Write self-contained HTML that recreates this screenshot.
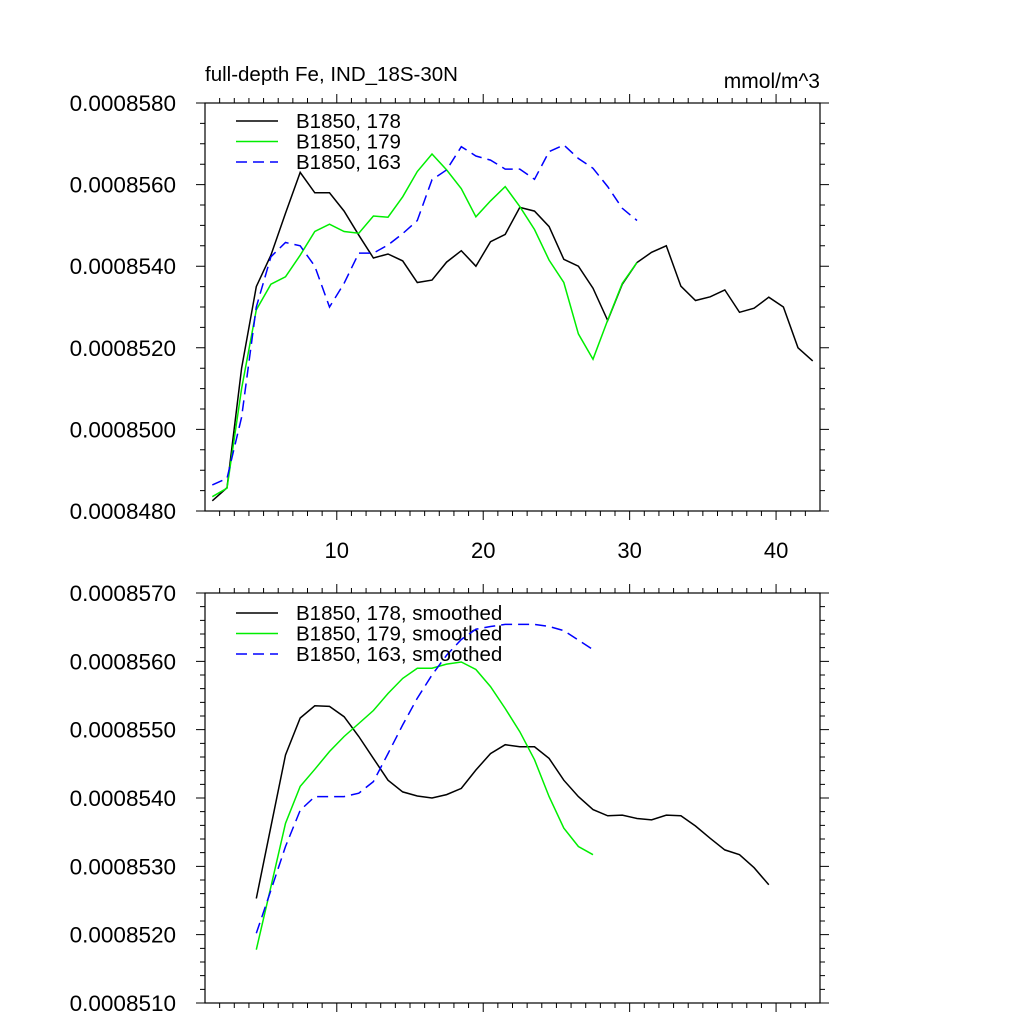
<!DOCTYPE html>
<html><head><meta charset="utf-8"><style>
body{margin:0;background:#fff;}
svg text{font-family:"Liberation Sans",sans-serif;fill:#000;}
</style></head><body>
<svg id="chart" width="1024" height="1024" viewBox="0 0 1024 1024" xmlns="http://www.w3.org/2000/svg">
<rect width="1024" height="1024" fill="#fff"/>
<g id="p1"></g>
<g id="p2"></g>
</svg>
<script>
const p1Black=[8482.5,8485.7,8515,8535,8542.7,8553,8563,8558,8558,8553.5,8547.6,8542,8543,8541.3,8536,8536.6,8541,8543.8,8540,8546,8547.8,8554.4,8553.5,8549.7,8541.7,8540,8534.6,8526.7,8535.6,8540.9,8543.4,8545,8535.1,8531.6,8532.5,8534.2,8528.7,8529.7,8532.4,8530,8520,8516.8];
const p1Green=[8483.5,8485.6,8510,8529.3,8535.6,8537.4,8542.7,8548.5,8550.3,8548.5,8548.1,8552.3,8552,8557,8563.2,8567.5,8563.6,8559,8552.1,8556,8559.5,8554.6,8549,8541.5,8536,8523.4,8517.2,8526.8,8535.8,8540.9];
const p1Blue=[8486.4,8488,8503,8530,8542.3,8545.8,8545,8540,8530,8535.8,8543.2,8543.2,8545.2,8548,8551.2,8561.2,8563.6,8569.3,8567,8566,8563.8,8563.8,8561.3,8568.1,8569.7,8566.4,8564,8559.5,8554.2,8551.2];
const p2Black=[8525.3,8535.8,8546.3,8551.7,8553.5,8553.4,8551.9,8549,8545.8,8542.6,8540.9,8540.3,8540,8540.5,8541.4,8544.1,8546.5,8547.8,8547.5,8547.5,8545.8,8542.6,8540.2,8538.3,8537.4,8537.5,8537,8536.8,8537.5,8537.4,8535.9,8534.1,8532.4,8531.7,8529.8,8527.3];
const p2Green=[8517.8,8527,8536.3,8541.7,8544.2,8546.8,8549,8550.9,8552.8,8555.3,8557.5,8559,8559,8559.6,8559.9,8558.8,8556.3,8553.1,8549.7,8545.6,8540.2,8535.6,8532.9,8531.7];
const p2Blue=[8520.2,8526.5,8532.9,8538.2,8540.2,8540.2,8540.2,8540.7,8542.4,8546.5,8550.7,8554.6,8558,8560.9,8563.2,8564.7,8565.1,8565.4,8565.4,8565.4,8565.1,8564.5,8563.1,8561.7];
const p1Start=1.5, p2Start=4.5;
const p1YTicks=["0.0008480","0.0008500","0.0008520","0.0008540","0.0008560","0.0008580"];
const p2YTicks=["0.0008510","0.0008520","0.0008530","0.0008540","0.0008550","0.0008560","0.0008570"];
const xTicks=[10,20,30,40];
const p1Legend=["B1850, 178","B1850, 179","B1850, 163"];
const p2Legend=["B1850, 178, smoothed","B1850, 179, smoothed","B1850, 163, smoothed"];
const NS="http://www.w3.org/2000/svg";
function mk(parent,tag,attrs){const e=document.createElementNS(NS,tag);for(const k in attrs)e.setAttribute(k,attrs[k]);parent.appendChild(e);return e;}
function panel(g,top,bottom,ymin,ymax,ymajor,nminor,yLabels,showX,series,legend,legY){
  const L=205,R=820,xmin=1,xmax=43;
  const sx=v=>L+(v-xmin)/(xmax-xmin)*(R-L);
  const sy=v=>bottom-(v-ymin)/(ymax-ymin)*(bottom-top);
  const fr=mk(g,'rect',{x:L,y:top,width:R-L,height:bottom-top,fill:'none',stroke:'#000','stroke-width':1.2});
  
  
  let ticks='';
  for(let x=2;x<=42;x++){const len=(x%10===0)?9:5;const px=sx(x);
    ticks+=`M${px},${bottom}v${len}M${px},${top}v${-len}`;}
  const nMaj=Math.round((ymax-ymin)/ymajor);
  for(let i=0;i<=nMaj*nminor;i++){const v=ymin+i*ymajor/nminor;const len=(i%nminor===0)?9:5;const py=sy(v);
    ticks+=`M${L},${py}h${-len}M${R},${py}h${len}`;}
  const tp=mk(g,'path',{d:ticks,stroke:'#000','stroke-width':1,fill:'none'});
  
  
  yLabels.forEach((s,i)=>{const t=mk(g,'text',{x:176,y:sy(ymin+i*ymajor)+8,'text-anchor':'end','font-size':22.5});t.textContent=s;
    
    });
  if(showX)xTicks.forEach(v=>{const t=mk(g,'text',{x:sx(v),y:bottom+47,'text-anchor':'middle','font-size':22});t.textContent=v;
    
    });
  series.forEach((s,k)=>{const d=s.data.map((v,i)=>(i?'L':'M')+sx(s.start+i).toFixed(1)+','+sy(v).toFixed(1)).join('');
    const p=mk(g,'path',{d:d,fill:'none',stroke:s.color,'stroke-width':1.5,'stroke-dasharray':s.dash||'none'});
    
    
    const ly=legY+k*20.5;
    const ll=mk(g,'line',{x1:236,x2:278,y1:ly,y2:ly,stroke:s.color,'stroke-width':1.5,'stroke-dasharray':s.dash||'none'});
    
    
    const lt=mk(g,'text',{x:296,y:ly+7,'font-size':20.5});lt.textContent=legend[k];
    
    });
}
const g1=document.getElementById('p1'),g2=document.getElementById('p2');
panel(g1,103,511,8480,8580,20,4,p1YTicks,true,[
 {name:'b178',data:p1Black,start:p1Start,color:'#000'},
 {name:'b179',data:p1Green,start:p1Start,color:'#00ee00'},
 {name:'b163',data:p1Blue,start:p1Start,color:'#0000ff',dash:'11,6'}],p1Legend,121);
panel(g2,593,1003,8510,8570,10,5,p2YTicks,false,[
 {name:'b178-smoothed',data:p2Black,start:p2Start,color:'#000'},
 {name:'b179-smoothed',data:p2Green,start:p2Start,color:'#00ee00'},
 {name:'b163-smoothed',data:p2Blue,start:p2Start,color:'#0000ff',dash:'11,6'}],p2Legend,613);
const t1=mk(g1,'text',{x:205,y:81,'font-size':20.5});t1.textContent='full-depth Fe, IND_18S-30N';


const t2=mk(g1,'text',{x:820,y:88,'font-size':21,'text-anchor':'end'});t2.textContent='mmol/m^3';


</script>
</body></html>
